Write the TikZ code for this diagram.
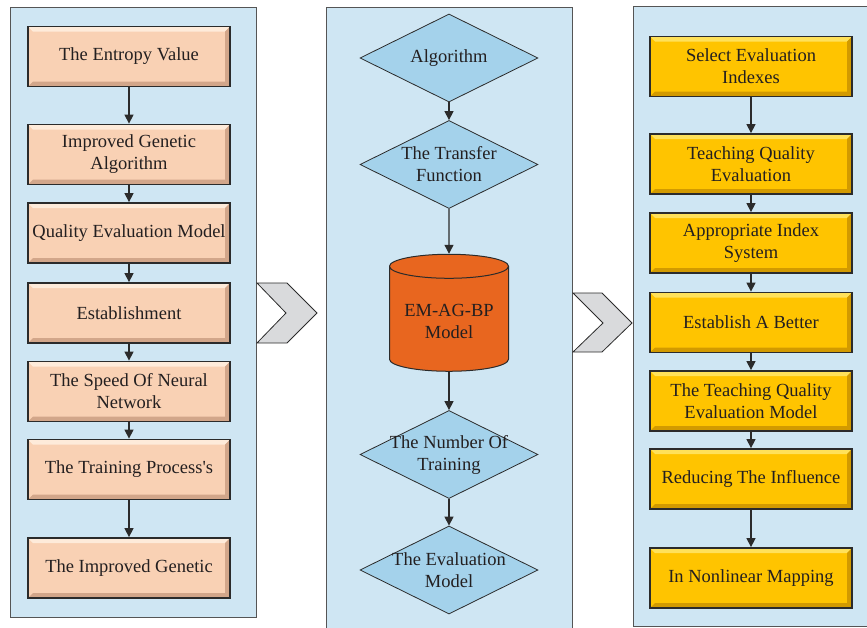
\documentclass[tikz,border=0pt]{standalone}
\usepackage{fontspec}
\setmainfont{Liberation Serif}
\usetikzlibrary{shapes.geometric,arrows.meta}

\definecolor{panelblue}{HTML}{CFE6F3}
\definecolor{peach}{HTML}{F9D1B4}
\definecolor{peachlight}{HTML}{FEEBDA}
\definecolor{peachdark}{HTML}{D2A68A}
\definecolor{gold}{HTML}{FFC400}
\definecolor{goldlight}{HTML}{FFE15A}
\definecolor{golddark}{HTML}{D29A00}
\definecolor{diamondblue}{HTML}{A4D2EB}
\definecolor{cylorange}{HTML}{E8661F}
\definecolor{chevgray}{HTML}{D9DADC}
\definecolor{linegray}{HTML}{2B2B2B}
\definecolor{textgray}{HTML}{231F20}

\tikzset{
  bevel/.style 2 args={path picture={
      \fill[#1] (path picture bounding box.north west) -- (path picture bounding box.north east)
        -- ([shift={(-5pt,-5pt)}]path picture bounding box.north east)
        -- ([shift={(5pt,-5pt)}]path picture bounding box.north west) -- cycle;
      \fill[#2] (path picture bounding box.south west) -- (path picture bounding box.south east)
        -- (path picture bounding box.north east)
        -- ([shift={(-5pt,-5pt)}]path picture bounding box.north east)
        -- ([shift={(-5pt,5pt)}]path picture bounding box.south east)
        -- ([shift={(5pt,5pt)}]path picture bounding box.south west) -- cycle;
    }},
  stepbox/.style={rectangle, draw=linegray, line width=1.8pt, minimum width=202pt,
    minimum height=60pt, align=center, inner sep=2pt, text=textgray},
  peachbox/.style={stepbox, fill=peach, bevel={peachlight}{peachdark}},
  goldbox/.style={stepbox, fill=gold, bevel={goldlight}{golddark}},
  choice/.style={diamond, draw=linegray, line width=0.8pt, fill=diamondblue, aspect=2,
    minimum width=178pt, minimum height=88pt, inner sep=-4pt, align=center, text=textgray},
  flow/.style={draw=linegray, line width=1.3pt, -{Triangle[length=9pt,width=9pt]}},
  panel/.style={fill=panelblue, draw=linegray!80, line width=1pt},
  chevron/.style={fill=chevgray, draw=linegray, line width=0.8pt, line join=miter}
}

\begin{document}
\begin{tikzpicture}[x=1pt, y=-1pt, font=\fontsize{18.5}{22}\selectfont]
  \def \leftx {129}   % centre of left column
  \def \midx {449}    % centre of middle column
  \def \rightx {751}  % centre of right column
  \useasboundingbox (0,0) rectangle (867,627);
  \clip (0,0) rectangle (867,627);
  % panels
  \draw[panel] (10,7) rectangle (256,617);
  \draw[panel] (326,7) rectangle (572,640);
  \draw[panel] (633,6) rectangle (880,626);
  % chevrons between panels
  \draw[chevron] (257,283) -- (287,283) -- (317,313) -- (287,343) -- (257,343) -- (286,313) -- cycle;
  \draw[chevron] (573,293) -- (602,293) -- (632,323) -- (602,352) -- (573,352) -- (603,323) -- cycle;
  % left column
  \node[peachbox] (entropy)   at (\leftx,56.5)  {The Entropy Value};
  \node[peachbox] (improved)  at (\leftx,154.5) {Improved Genetic\\Algorithm};
  \node[peachbox] (quality)   at (\leftx,233)   {Quality Evaluation Model};
  \node[peachbox] (establish) at (\leftx,313)   {Establishment};
  \node[peachbox] (speed)     at (\leftx,391.5) {The Speed Of Neural\\Network};
  \node[peachbox] (process)   at (\leftx,469.5) {The Training Process\textquotesingle s};
  \node[peachbox] (genetic)   at (\leftx,568)   {The Improved Genetic};
  \draw[flow] (entropy) -- (improved);
  \draw[flow] (improved) -- (quality);
  \draw[flow] (quality) -- (establish);
  \draw[flow] (establish) -- (speed);
  \draw[flow] (speed) -- (process);
  \draw[flow] (process) -- (genetic);
  % middle column
  \node[choice] (algorithm) at (\midx,58)    {Algorithm};
  \node[choice] (transfer)  at (\midx,164.5) {The Transfer\\Function};
  \node[cylinder, shape border rotate=90, aspect=0.25, draw=linegray, line width=1pt,
    fill=cylorange, minimum width=119pt, minimum height=117pt, align=center,
    text=textgray] (model) at (\midx,321) {EM-AG-BP\\Model};
  \node[choice] (number)    at (\midx,454.5) {The Number Of\\Training};
  \node[choice] (evaluation) at (\midx,570)  {The Evaluation\\Model};
  \draw[flow] (algorithm) -- (transfer);
  \draw[flow] (transfer) -- (model);
  \draw[flow] (model) -- (number);
  \draw[flow] (number) -- (evaluation);
  % right column
  \node[goldbox] (select)    at (\rightx,66.5) {Select Evaluation\\Indexes};
  \node[goldbox] (teaching)  at (\rightx,164)  {Teaching Quality\\Evaluation};
  \node[goldbox] (index)     at (\rightx,243)  {Appropriate Index\\System};
  \node[goldbox] (better)    at (\rightx,322.5) {Establish A Better};
  \node[goldbox] (tqmodel)   at (\rightx,401)  {The Teaching Quality\\Evaluation Model};
  \node[goldbox] (influence) at (\rightx,479)  {Reducing The Influence};
  \node[goldbox] (mapping)   at (\rightx,578)  {In Nonlinear Mapping};
  \draw[flow] (select) -- (teaching);
  \draw[flow] (teaching) -- (index);
  \draw[flow] (index) -- (better);
  \draw[flow] (better) -- (tqmodel);
  \draw[flow] (tqmodel) -- (influence);
  \draw[flow] (influence) -- (mapping);
\end{tikzpicture}
\end{document}
